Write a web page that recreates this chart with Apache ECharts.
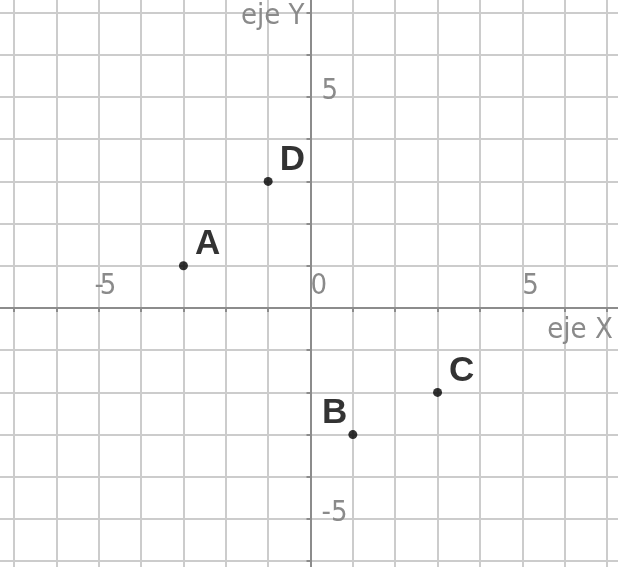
<!DOCTYPE html>
<html>
<head>
<meta charset="utf-8">
<script src="https://cdn.jsdelivr.net/npm/echarts@6/dist/echarts.min.js"></script>
<style>
html,body{margin:0;padding:0;background:#fff;}
#chart{width:618px;height:567px;}
</style>
</head>
<body>
<div id="chart"></div>
<script>
// ---- data ----
const pointNames = ['A', 'B', 'C', 'D'];
const pointX = [-3, 1, 3, -1];
const pointY = [1, -3, -2, 3];
const xTickLabels = [-5, 0, 5];
const yTickLabels = [-5, 5];
const xAxisName = 'eje X';
const yAxisName = 'eje Y';
const xRange = [-8, 8];
const yRange = [-7, 8];

// ---- label placement (style) ----
const labelSide = { A: 'right', B: 'left', C: 'right', D: 'right' };

const tickFont = "'Liberation Sans Narrow','DejaVu Sans Condensed','Liberation Sans',sans-serif";
const gray = '#8a8a8a';

// grid geometry (pixels)
const G = { left: -28.3, right: -31.3, top: -29.6, bottom: -36.4 };
const W = 618, H = 567;
const plotW = W - G.left - G.right, plotH = H - G.top - G.bottom;
// offsets so axes sit at the zero lines
const xZeroPix = G.left + plotW * (0 - xRange[0]) / (xRange[1] - xRange[0]);
const yZeroPix = G.top + plotH * (yRange[1] - 0) / (yRange[1] - yRange[0]);
const xAxisOffset = -((H - G.bottom) - yZeroPix);
const yAxisOffset = -(xZeroPix - G.left);

const chart = echarts.init(document.getElementById('chart'), null, { renderer: 'canvas' });

const data = pointNames.map((n, i) => {
  const side = labelSide[n];
  return {
    name: n,
    value: [pointX[i], pointY[i]],
    label: {
      position: side,
      offset: side === 'right' ? [2, -21] : [4, -21]
    }
  };
});

const option = {
  backgroundColor: '#ffffff',
  animation: false,
  grid: {
    left: G.left, right: G.right, top: G.top, bottom: G.bottom,
    containLabel: false, outerBoundsMode: 'none'
  },
  xAxis: {
    type: 'value', min: xRange[0], max: xRange[1], interval: 1,
    position: 'bottom', offset: xAxisOffset,
    name: xAxisName, nameLocation: 'end', nameGap: -36.5,
    nameTextStyle: {
      fontFamily: tickFont, fontSize: 29, color: gray,
      align: 'right', verticalAlign: 'top', padding: [8, 0, 0, 0]
    },
    axisLine: { show: true, onZero: false, lineStyle: { color: '#8c8c8c', width: 2 } },
    axisTick: { show: true, length: 4, lineStyle: { color: '#8c8c8c', width: 2 } },
    splitLine: { show: true, lineStyle: { color: '#cccccc', width: 2 } },
    axisLabel: {
      inside: true, margin: 7,
      fontFamily: tickFont, fontSize: 29, color: gray, align: 'left',
      formatter: function (v) {
        if (xTickLabels.indexOf(v) < 0) return '';
        if (v < 0) return '{m|-}{d|' + (-v) + '}';
        return '{d|' + v + '}';
      },
      rich: {
        m: { fontFamily: tickFont, fontSize: 29, color: gray, width: 1, align: 'right' },
        d: { fontFamily: tickFont, fontSize: 29, color: gray }
      }
    }
  },
  yAxis: {
    type: 'value', min: yRange[0], max: yRange[1], interval: 1,
    position: 'left', offset: yAxisOffset,
    name: yAxisName, nameLocation: 'end', nameGap: -32,
    nameTextStyle: {
      fontFamily: tickFont, fontSize: 29, color: gray,
      align: 'right', verticalAlign: 'top', padding: [0, 6, 0, 0]
    },
    axisLine: { show: true, onZero: false, lineStyle: { color: '#8c8c8c', width: 2 } },
    axisTick: { show: true, length: 4, lineStyle: { color: '#8c8c8c', width: 2 } },
    splitLine: { show: true, lineStyle: { color: '#cccccc', width: 2 } },
    axisLabel: {
      inside: true, margin: 11,
      fontFamily: tickFont, fontSize: 29, color: gray, align: 'left',
      verticalAlign: 'bottom', lineHeight: 11,
      formatter: function (v) {
        return yTickLabels.indexOf(v) < 0 ? '' : String(v);
      }
    }
  },
  series: [{
    type: 'scatter',
    symbol: 'circle',
    symbolSize: 9,
    itemStyle: { color: '#000000' },
    label: {
      show: true,
      formatter: '{b}',
      fontFamily: "'Liberation Sans', Arial, sans-serif",
      fontWeight: 'bold',
      fontSize: 35,
      color: '#000000'
    },
    data: data
  }]
};

chart.setOption(option);
</script>
</body>
</html>
